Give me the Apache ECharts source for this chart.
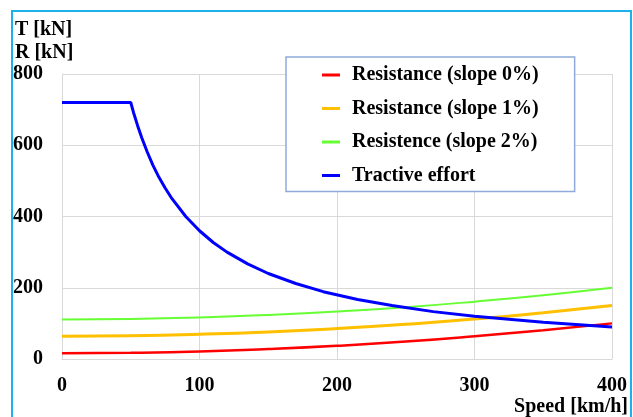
<!DOCTYPE html>
<html>
<head>
<meta charset="utf-8">
<script src="https://cdn.jsdelivr.net/npm/echarts@6/dist/echarts.min.js"></script>
<style>
  html, body { margin: 0; padding: 0; background: #fff; }
  #chart { width: 633px; height: 417px; }
</style>
</head>
<body>
<div id="chart"></div>
<script>
// speed points for the resistance curves [km/h]
const speeds = [0, 50, 100, 150, 200, 250, 300, 350, 400]
const res0 = [16, 17.3, 21, 27.8, 37, 49, 64, 81, 100]
const res1 = [64, 65.3, 69.4, 76, 85.5, 97.5, 112, 130, 150]
const res2 = [111, 112.4, 116.6, 123.5, 133, 145.4, 161, 179, 200]

// tractive effort (flat, then falling)
const tractSpeeds = [0, 50, 52, 55, 58, 62, 66, 70, 75, 80, 90, 100, 110, 120, 135, 150, 170, 190, 215, 240, 270, 300, 350, 400]
const tractive = [720, 720, 692, 655, 621, 581, 545, 514, 480, 450, 400, 360, 327, 300, 267, 240, 212, 189, 167, 150, 133, 120, 103, 90]

const names = ['Resistance (slope 0%)', 'Resistance (slope 1%)', 'Resistence (slope 2%)', 'Tractive effort']
const xTicks = [0, 100, 200, 300, 400]
const yTicks = [0, 200, 400, 600, 800]

const font = "'Liberation Serif', 'Times New Roman', serif"

function pairs(xs, ys) {
  return xs.map((x, i) => [x, ys[i]])
}

const chart = echarts.init(document.getElementById('chart'))

function lineSeries(name, xs, ys, color, width, smooth) {
  return {
    name: name,
    type: 'line',
    data: pairs(xs, ys),
    showSymbol: false,
    smooth: smooth,
    color: color,
    lineStyle: { color: color, width: width },
    z: 3
  }
}

const option = {
  animation: false,
  backgroundColor: '#fff',
  graphic: [{
    type: 'rect',
    shape: { x: 12, y: 11, width: 619, height: 420 },
    style: { fill: 'none', stroke: '#1cb1ec', lineWidth: 2 },
    silent: true
  }],
  title: {
    text: 'T [kN]\nR [kN]',
    left: 10,
    top: 13,
    textStyle: { fontFamily: font, fontWeight: 'bold', fontSize: 20, lineHeight: 23, color: '#000' }
  },
  legend: {
    orient: 'vertical',
    left: 286,
    top: 57,
    padding: [8, 36, 6, 36],
    itemGap: 13.5,
    itemWidth: 18,
    itemHeight: 3,
    icon: 'rect',
    backgroundColor: '#fff',
    borderColor: '#8eaadb',
    borderWidth: 1.5,
    data: names,
    textStyle: { fontFamily: font, fontWeight: 'bold', fontSize: 20, color: '#000', padding: [0, 0, 0, 7] }
  },
  grid: { left: 62, right: 21, top: 74, bottom: 56 },
  xAxis: {
    type: 'value',
    min: xTicks[0],
    max: xTicks[xTicks.length - 1],
    interval: 100,
    name: 'Speed [km/h]',
    nameLocation: 'end',
    nameGap: 16,
    nameTextStyle: {
      fontFamily: font, fontWeight: 'bold', fontSize: 20, color: '#000',
      align: 'right', verticalAlign: 'top', padding: [38, 0, 0, 0]
    },
    axisLine: { show: true, lineStyle: { color: '#d9d9d9', width: 1 } },
    axisTick: { show: false },
    splitLine: { show: true, lineStyle: { color: '#d9d9d9', width: 1 } },
    axisLabel: { fontFamily: font, fontWeight: 'bold', fontSize: 20, color: '#000', margin: 17 }
  },
  yAxis: {
    type: 'value',
    min: yTicks[0],
    max: yTicks[yTicks.length - 1],
    interval: 200,
    axisLine: { show: true, lineStyle: { color: '#d9d9d9', width: 1 } },
    axisTick: { show: false },
    splitLine: { show: true, lineStyle: { color: '#d9d9d9', width: 1 } },
    axisLabel: { fontFamily: font, fontWeight: 'bold', fontSize: 20, color: '#000', margin: 19, padding: [4, 0, 0, 0] }
  },
  series: [
    lineSeries(names[0], speeds, res0, '#ff0000', 2.5, true),
    lineSeries(names[1], speeds, res1, '#ffc000', 3, true),
    lineSeries(names[2], speeds, res2, '#66ff33', 2, true),
    lineSeries(names[3], tractSpeeds, tractive, '#0000ff', 3, false)
  ]
}

chart.setOption(option)
</script>
</body>
</html>
